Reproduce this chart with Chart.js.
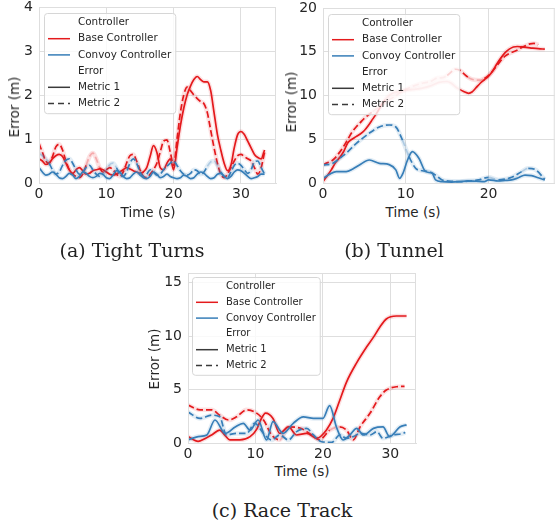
<!DOCTYPE html>
<html>
<head>
  <meta charset="utf-8">
  <title>Controller Error</title>
  <script src="https://cdn.jsdelivr.net/npm/chart.js@4.4.1/dist/chart.umd.min.js"></script>
  <style>
    body { margin: 0; background: #fff; }
    #fig { position: relative; width: 557px; height: 526px; font-family: "DejaVu Sans", sans-serif; color: #262626; overflow: hidden; }
    .panel { position: absolute; }
    .lbl { position: absolute; font-size: 13.5px; white-space: nowrap; transform: translate(-50%, -50%); }
    .ylbl { transform: translate(-50%, -50%) rotate(-90deg); }
    .cap { position: absolute; font-family: "DejaVu Serif", serif; font-size: 19px; white-space: nowrap; transform: translate(-50%, -50%); color: #222; }
  </style>
</head>
<body>
  <div id="fig">
    <div class="panel" style="left:0;top:-14px;width:280px;height:214px;"><canvas id="tight"></canvas></div>
    <div class="panel" style="left:280px;top:-14px;width:277px;height:214px;"><canvas id="tunnel"></canvas></div>
    <div class="panel" style="left:140px;top:246px;width:280px;height:214px;"><canvas id="race"></canvas></div>

    <div class="lbl ylbl" style="left:14px;top:107px;">Error (m)</div>
    <div class="lbl ylbl" style="left:291px;top:102px;">Error (m)</div>
    <div class="lbl ylbl" style="left:154px;top:359px;">Error (m)</div>
    <div class="lbl" style="left:148px;top:212px;">Time (s)</div>
    <div class="lbl" style="left:413px;top:212px;">Time (s)</div>
    <div class="lbl" style="left:302px;top:471px;">Time (s)</div>

    <div class="cap" style="left:132px;top:250px;">(a) Tight Turns</div>
    <div class="cap" style="left:394px;top:250px;">(b) Tunnel</div>
    <div class="cap" style="left:282px;top:510px;">(c) Race Track</div>
  </div>

  <script>
    // ---- (a) Tight Turns ----
    const ttTime = [0,0.5,1,1.5,2,2.5,3,3.5,4,4.5,5,5.5,6,6.5,7,7.5,8,8.5,9,9.5,10,10.5,11,11.5,12,12.5,13,13.5,14,14.5,15,15.5,16,16.5,17,17.5,18,18.5,19,19.5,20,20.5,21,21.5,22,22.5,23,23.5,24,24.5,25,25.5,26,26.5,27,27.5,28,28.5,29,29.5,30,30.5,31,31.5,32,32.5,33,33.5];
    const ttBaseM1 = [0.55,0.5,0.42,0.45,0.55,0.62,0.65,0.6,0.45,0.3,0.22,0.3,0.35,0.28,0.2,0.22,0.28,0.3,0.32,0.3,0.25,0.2,0.18,0.2,0.25,0.3,0.35,0.32,0.28,0.25,0.22,0.25,0.35,0.6,0.85,0.7,0.35,0.3,0.45,0.55,0.3,0.8,1.3,1.7,2.0,2.2,2.35,2.42,2.35,2.3,2.3,2.1,1.6,1.1,0.75,0.45,0.28,0.4,0.8,1.1,1.17,1.1,0.95,0.8,0.65,0.58,0.55,0.75];
    const ttBaseM2 = [0.9,0.7,0.5,0.45,0.6,0.82,0.88,0.75,0.5,0.3,0.2,0.15,0.12,0.2,0.4,0.6,0.68,0.55,0.35,0.25,0.3,0.35,0.3,0.2,0.15,0.25,0.45,0.62,0.65,0.5,0.3,0.15,0.12,0.2,0.3,0.45,0.7,0.95,0.98,0.7,0.4,1.0,1.6,2.0,2.18,2.1,2.0,1.92,1.85,1.8,1.6,1.2,0.8,0.45,0.2,0.12,0.2,0.35,0.5,0.62,0.65,0.6,0.55,0.5,0.35,0.2,0.35,0.7];
    const ttConvoyM1 = [0.35,0.25,0.18,0.2,0.25,0.2,0.12,0.1,0.15,0.22,0.18,0.1,0.15,0.25,0.22,0.15,0.12,0.15,0.22,0.2,0.12,0.1,0.18,0.28,0.25,0.15,0.1,0.12,0.2,0.25,0.18,0.12,0.1,0.15,0.25,0.2,0.12,0.15,0.2,0.15,0.12,0.1,0.12,0.18,0.15,0.1,0.12,0.2,0.25,0.22,0.15,0.1,0.12,0.2,0.22,0.15,0.1,0.15,0.25,0.3,0.28,0.22,0.15,0.1,0.12,0.15,0.2,0.2];
    const ttConvoyM2 = [0.67,0.62,0.55,0.45,0.3,0.2,0.25,0.4,0.52,0.55,0.45,0.3,0.2,0.25,0.35,0.4,0.3,0.2,0.15,0.2,0.3,0.42,0.45,0.35,0.2,0.15,0.25,0.45,0.55,0.45,0.25,0.15,0.2,0.3,0.25,0.18,0.2,0.3,0.38,0.45,0.5,0.4,0.28,0.2,0.18,0.22,0.3,0.28,0.2,0.25,0.38,0.48,0.5,0.4,0.25,0.15,0.12,0.25,0.4,0.45,0.4,0.3,0.22,0.3,0.48,0.5,0.35,0.2];

    // ---- (b) Tunnel ----
    const tuBaseM1T = [0,0.5,1,1.5,2,2.5,3,3.5,4,4.5,5,5.5,6,6.5,7,7.5,8,8.5,9,10,11,12,13,14,15,15.5,16,16.5,17,17.6,18,18.5,19,19.5,20,20.5,21,21.5,22,22.5,23,23.5,24,25,26,26.8];
    const tuBaseM1 = [0.15,0.8,1.5,2.3,2.9,3.6,4.6,5.0,5.3,5.6,6.0,6.6,7.3,8.0,8.8,9.5,10.0,10.3,10.45,10.6,10.7,10.85,11.1,11.5,11.6,11.4,11.0,10.7,10.45,10.25,10.4,10.9,11.4,11.8,12.2,12.8,13.6,14.3,14.9,15.3,15.55,15.6,15.55,15.45,15.35,15.3];
    const tuBaseM2T = [0,0.5,1,1.5,2,2.5,3,3.5,4,4.5,5,5.5,6,7,8,9,10,11,12,13,13.8,14.5,15,15.5,16,16.5,17,17.5,18,19,19.5,20,20.5,21,21.5,22,22.5,23,23.5,24,24.5,25,25.5,26];
    const tuBaseM2 = [2.06,2.3,2.5,2.9,3.5,4.2,5.0,5.8,6.4,6.9,7.4,7.8,8.15,8.9,9.5,10.1,10.7,11.1,11.4,11.6,12.0,12.05,12.3,12.7,13.0,12.9,12.5,12.1,11.85,11.75,11.95,12.3,12.8,13.4,14.0,14.5,14.8,15.0,15.2,15.5,15.7,15.9,15.95,15.8];
    const tuConvoyM1T = [0,0.8,1.6,2.8,3.6,4.4,5.6,6.8,8,8.8,9.25,9.7,10.2,10.8,11.6,12.4,13.2,13.6,14.4,15.5,16.5,17.5,18.5,19.5,20,21.2,22,22.8,23.6,24.4,25.2,26,26.8];
    const tuConvoyM1 = [0.53,1.0,1.3,1.3,1.6,2.06,2.63,2.25,2.1,1.5,0.53,1.2,2.6,3.58,2.8,1.3,1.1,0.35,0.15,0.1,0.15,0.25,0.2,0.15,0.35,0.23,0.3,0.35,0.6,0.9,0.85,0.6,0.35];
    const tuConvoyM2T = [0,1.2,2,2.8,4,5.6,6.8,8,8.8,9.6,10.4,11.2,12,12.8,13.6,14.4,15.5,16.5,17.5,18.8,20,21.2,22,22.8,24,24.8,25.6,26.8];
    const tuConvoyM2 = [2.05,2.25,2.8,3.4,4.5,5.7,6.4,6.63,6.4,4.9,3.0,1.68,1.4,1.3,0.9,0.35,0.2,0.15,0.2,0.35,0.65,0.35,0.45,0.65,1.3,1.68,1.56,0.42];

    // ---- (c) Race Track ----
    const rtBaseM1T = [0,1.5,2.5,3.5,4.7,5.5,6.2,7.7,9.2,10.2,10.8,11.5,12.6,13.6,14.9,16.1,17.6,19.1,20.5,21.5,22.5,23.5,25,26.5,27.5,28.4,29.4,30.9,32.4];
    const rtBaseM1 = [0.6,0.15,0.4,0.75,1.2,0.7,0.3,0.3,0.6,1.3,2.2,2.8,2.3,0.9,1.5,0.75,0.9,0.45,1.2,2.3,4.0,5.7,7.5,9.0,9.9,10.8,11.6,11.88,11.88];
    const rtBaseM2T = [0,1.8,3.5,4.7,6,7.2,8.7,9.9,11.2,12.4,13.6,14.9,16.6,18,19.5,21,22.5,23.5,24.5,25.5,27,28.4,29.4,30.9,32.1];
    const rtBaseM2 = [3.55,3.1,3.1,2.6,2.15,2.45,3.1,2.9,2.15,0.75,0.3,1.5,1.4,0.9,0.3,1.2,1.5,1.2,0.3,1.5,2.8,4.3,4.95,5.26,5.3];
    const rtConvoyM1T = [0,1.5,2.8,4,5.5,7,8.2,9.2,10.4,11.65,12.6,14.1,15.6,17.1,18.6,20,21,22,23,24,25,26,27.5,28.9,29.9,31.4,32.4];
    const rtConvoyM1 = [0.3,0.6,0.75,2.15,0.9,1.5,1.84,1.2,2.15,0.28,2.0,0.9,1.84,2.45,2.3,2.3,3.5,1.5,0.28,0.75,1.37,0.75,1.37,1.5,0.6,1.5,1.7];
    const rtConvoyM2T = [0,1.8,3.5,4.7,5.7,7.2,8.7,9.9,11.2,12.4,13.6,14.9,16.1,17.6,18.6,19.8,21.3,22.5,23.5,24.5,25.5,27,28,28.9,30.4,31.9,32.2];
    const rtConvoyM2 = [2.9,2.3,2.6,2.45,0.75,0.9,0.9,1.84,0.9,0.28,0.75,0.28,1.06,1.37,0.75,0.12,0.06,0.75,0.44,0.6,0.9,0.75,1.06,0.44,0.75,0.9,1.0];

    // time spans where the plotted line shows up pale (thin confidence band only)
    const fadeTtBaseM2 = [[7, 9]];
    const fadeTtConvoyM2 = [[0, 1.5], [9.5, 11.5], [25, 27]];
    const fadeTuBaseM1 = [[7.5, 16.5]];
    const fadeTuBaseM2 = [[5.8, 15.2], [17.5, 19.5]];
    const fadeTuConvoyM2 = [[9, 11], [19.5, 21.5], [23.5, 25.5]];
    const fadeRtBaseM2 = [[13.5, 16.5], [20.5, 22.5], [26.5, 28]];
    const fadeRtConvoyM2 = [[0.8, 3], [12.5, 14.5], [27.5, 28.5]];

    const RED = '#e41a1c', RED_PALE = 'rgba(228,26,28,0.28)', RED_HALO = 'rgba(228,26,28,0.13)';
    const BLUE = '#377eb8', BLUE_PALE = 'rgba(55,126,184,0.3)', BLUE_HALO = 'rgba(55,126,184,0.14)';
    const GRID = '#dedede', TEXT = '#262626';
    const DASH = [6.5, 3];

    const legendRows = [
      { text: 'Controller' },
      { text: 'Base Controller', color: RED },
      { text: 'Convoy Controller', color: BLUE },
      { text: 'Error' },
      { text: 'Metric 1', color: '#3a3a3a' },
      { text: 'Metric 2', color: '#3a3a3a', dash: [6, 4] }
    ];

    function pts(xs, ys) {
      return xs.map((x, i) => ({ x: x, y: ys[i] }));
    }

    // one seaborn line = soft band underneath + the mean line on top
    function series(xs, ys, color, pale, halo, dashed, fades) {
      const band = {
        data: pts(xs, ys),
        borderColor: halo,
        borderWidth: 4.5,
        pointRadius: 0,
        fill: false,
        cubicInterpolationMode: 'monotone'
      };
      const line = {
        data: pts(xs, ys),
        borderColor: color,
        borderWidth: 1.7,
        borderDash: dashed ? DASH : [],
        pointRadius: 0,
        fill: false,
        cubicInterpolationMode: 'monotone',
        segment: {
          borderColor: c => (fades || []).some(r => c.p0.parsed.x >= r[0] && c.p1.parsed.x <= r[1]) ? pale : undefined
        }
      };
      return [band, line];
    }

    // frame on all four sides + seaborn style legend
    const decorPlugin = {
      id: 'decor',
      afterDatasetsDraw(chart, args, opts) {
        const ctx = chart.ctx, a = chart.chartArea;
        ctx.save();
        ctx.strokeStyle = GRID;
        ctx.lineWidth = 1;
        ctx.strokeRect(a.left + 0.5, a.top + 0.5, a.right - a.left - 1, a.bottom - a.top);

        ctx.font = opts.fontSize + 'px "DejaVu Sans"';
        const bx = a.left + opts.dx, by = a.top + opts.dy;
        const bw = 34 + Math.max(...legendRows.map(r => ctx.measureText(r.text).width)) + 4;
        const bh = opts.rowH * 6 + 3;
        ctx.beginPath();
        ctx.roundRect(bx + 0.5, by + 0.5, bw, bh, 3);
        ctx.fillStyle = 'rgba(255,255,255,0.8)';
        ctx.fill();
        ctx.strokeStyle = '#d6d6d6';
        ctx.stroke();

        ctx.textBaseline = 'middle';
        legendRows.forEach((r, i) => {
          const cy = by + 9.5 + i * opts.rowH;
          if (r.color) {
            ctx.beginPath();
            ctx.setLineDash(r.dash || []);
            ctx.strokeStyle = r.color;
            ctx.lineWidth = 1.5;
            ctx.moveTo(bx + 4, cy);
            ctx.lineTo(bx + 26, cy);
            ctx.stroke();
            ctx.setLineDash([]);
          }
          ctx.fillStyle = TEXT;
          ctx.fillText(r.text, bx + 34, cy);
        });
        ctx.restore();
      }
    };

    function makePanel(id, p) {
      const tickFont = { family: 'DejaVu Sans', size: 14 };
      const chart = new Chart(document.getElementById(id), {
        type: 'line',
        data: { datasets: p.datasets.flat() },
        plugins: [decorPlugin],
        options: {
          responsive: true,
          maintainAspectRatio: false,
          animation: false,
          layout: { padding: { left: 0, top: 0, right: 0, bottom: 0 } },
          plugins: {
            legend: { display: false },
            tooltip: { enabled: false },
            decor: { dx: p.legDx, dy: p.legDy, rowH: p.rowH, fontSize: p.legFont }
          },
          scales: {
            x: {
              type: 'linear', min: 0, max: p.xMax,
              afterFit: s => { s.height = 16; },
              ticks: { stepSize: 10, includeBounds: false, autoSkip: false, maxRotation: 0, padding: 3, color: TEXT, font: tickFont },
              grid: { color: GRID, drawTicks: false },
              border: { color: GRID }
            },
            y: {
              min: 0, max: p.yMax,
              afterFit: s => { s.width = 40; },
              ticks: { stepSize: p.yStep, includeBounds: false, autoSkip: false, padding: 6, color: TEXT, font: tickFont },
              grid: { color: GRID, drawTicks: false },
              border: { color: GRID }
            }
          }
        }
      });
      // nudge the layout padding until the plot area sits where the reference has it
      for (let k = 0; k < 5; k++) {
        const a = chart.chartArea, pad = chart.options.layout.padding, t = p.area;
        const d = { left: t.left - a.left, top: t.top - a.top, right: a.right - t.right, bottom: a.bottom - t.bottom };
        if (Object.values(d).every(v => Math.abs(v) < 0.3)) break;
        pad.left += d.left; pad.top += d.top; pad.right += d.right; pad.bottom += d.bottom;
        chart.update();
      }
      return chart;
    }

    // plot areas are given in canvas pixels (canvas starts 14px above its panel row)
    makePanel('tight', {
      xMax: 35.2, yMax: 4, yStep: 1,
      area: { left: 39, top: 21, right: 276, bottom: 197 },
      legDx: 5, legDy: 6, rowH: 16.2, legFont: 10.4,
      datasets: [
        series(ttTime, ttConvoyM2, BLUE, BLUE_PALE, BLUE_HALO, true, fadeTtConvoyM2),
        series(ttTime, ttConvoyM1, BLUE, BLUE_PALE, BLUE_HALO, false),
        series(ttTime, ttBaseM2, RED, RED_PALE, RED_HALO, true, fadeTtBaseM2),
        series(ttTime, ttBaseM1, RED, RED_PALE, RED_HALO, false)
      ]
    });

    makePanel('tunnel', {
      xMax: 28, yMax: 20, yStep: 5,
      area: { left: 43, top: 22, right: 276, bottom: 197 },
      legDx: 5, legDy: 6, rowH: 16.2, legFont: 10.4,
      datasets: [
        series(tuConvoyM2T, tuConvoyM2, BLUE, BLUE_PALE, BLUE_HALO, true, fadeTuConvoyM2),
        series(tuConvoyM1T, tuConvoyM1, BLUE, BLUE_PALE, BLUE_HALO, false),
        series(tuBaseM2T, tuBaseM2, RED, RED_PALE, RED_HALO, true, fadeTuBaseM2),
        series(tuBaseM1T, tuBaseM1, RED, RED_PALE, RED_HALO, false, fadeTuBaseM1)
      ]
    });

    makePanel('race', {
      xMax: 33.8, yMax: 15.9, yStep: 5,
      area: { left: 48, top: 27, right: 276, bottom: 197 },
      legDx: 4, legDy: 4, rowH: 15.8, legFont: 10,
      datasets: [
        series(rtConvoyM2T, rtConvoyM2, BLUE, BLUE_PALE, BLUE_HALO, true, fadeRtConvoyM2),
        series(rtConvoyM1T, rtConvoyM1, BLUE, BLUE_PALE, BLUE_HALO, false),
        series(rtBaseM2T, rtBaseM2, RED, RED_PALE, RED_HALO, true, fadeRtBaseM2),
        series(rtBaseM1T, rtBaseM1, RED, RED_PALE, RED_HALO, false)
      ]
    });
  </script>
</body>
</html>
